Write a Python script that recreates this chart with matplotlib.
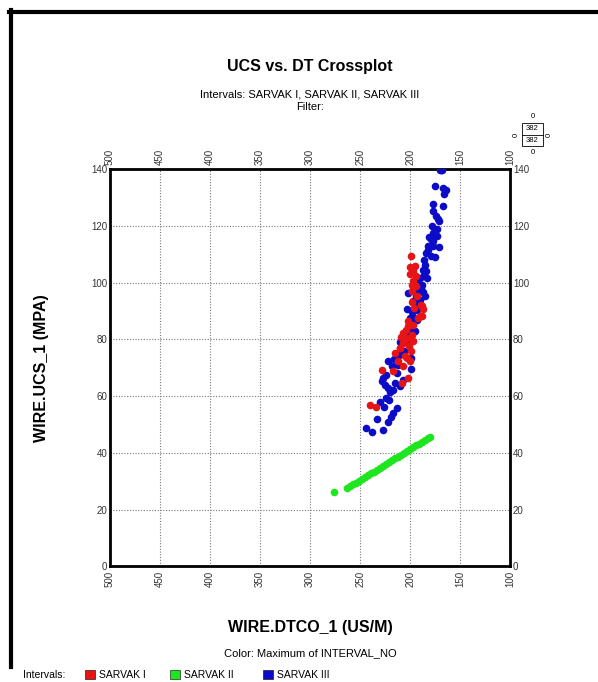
import matplotlib
matplotlib.use("Agg")
import matplotlib.pyplot as plt
from matplotlib.lines import Line2D
from matplotlib.patches import Rectangle

plt.rcParams['font.family'] = ['Liberation Sans', 'DejaVu Sans']

# Data (DT in US/M, UCS in MPA)
green_dt = [276, 263, 260, 257, 254, 251, 248, 245, 242, 239, 236, 233, 230, 227, 224,
            221, 218, 215, 212, 209, 206, 203, 200, 197, 194, 191, 188, 185, 182, 180]
green_ucs = [26.3, 27.7, 28.3, 28.9, 29.5, 30.2, 30.8, 31.5, 32.1, 32.8, 33.4, 34.1, 34.8, 35.4, 36.1,
             36.7, 37.4, 38.1, 38.7, 39.4, 40.1, 40.7, 41.4, 42.1, 42.7, 43.3, 44.0, 44.6, 45.2, 45.6]

blue_dt = [244, 238, 227, 233, 222, 219, 217, 213, 226, 230, 224, 221, 227, 225, 222,
           222, 218, 213, 207, 215, 210, 199, 199, 210, 211, 205, 193, 220, 217, 228,
           224, 216, 212, 206,
           169.3, 170.5, 168, 175, 166.7, 164.3, 165.7, 176.7, 177.3, 167.3, 171.7, 171.3, 173.3, 175,
           176.7, 180.7, 179, 176.7, 177.3, 170.7, 181.7, 184, 179.3, 175, 186, 185, 187.3, 186,
           183.3, 190, 188.3, 191.7, 185, 194, 196.7, 201.7, 203.3, 198.3, 195, 200, 196.7, 193.3,
           203.3, 195, 189, 192, 187, 190, 197, 199, 201, 192, 184, 182, 178, 174, 173]
blue_ucs = [48.7, 47.5, 48.1, 51.9, 50.9, 52.8, 54.0, 55.8, 56.1, 58.1, 59.3, 58.5, 66.4, 64.0, 63.0,
            72.2, 70.5, 68.3, 65.8, 64.6, 63.4, 69.5, 73.4, 78.9, 74.6, 80.0, 90.4, 61.5, 62.0, 65.5,
            67.5, 73.0, 71.0, 76.0,
            139.6, 139.8, 139.5, 133.9, 133.3, 132.5, 131.2, 127.8, 125.1, 126.9, 122.5, 121.6, 118.7, 118.1,
            117.5, 116.1, 115.5, 114.5, 112.8, 112.4, 111.6, 110.4, 109.5, 109.0, 108.0, 106.3, 104.6, 102.8,
            101.6, 101.6, 99.3, 97.5, 95.4, 95.1, 93.4, 96.3, 90.7, 89.8, 91.6, 87.5, 85.8, 86.9,
            82.8, 82.8, 98.0, 100.0, 96.5, 94.0, 88.0, 84.0, 79.5, 92.5, 104.0, 113.0, 120.0, 123.5, 116.5]

red_dt = [240, 234, 228, 217, 208, 202, 200, 215, 210, 207, 204, 201, 188, 190,
          199.3, 200, 195, 196.7, 194, 197.3, 194, 198.3, 193.3, 198.3, 189.3, 186.7, 188.3, 191.7,
          196.7, 201.7, 204, 198.3, 203.3, 196.7, 206.7, 210, 205, 212, 207, 203, 199, 200,
          198, 196, 202, 209]
red_ucs = [57.0, 56.0, 69.3, 69.0, 64.6, 66.4, 72.2, 75.2, 76.9, 82.2, 80.0, 77.5, 91.6, 88.1,
           109.5, 105.5, 105.7, 104.0, 102.2, 100.4, 98.7, 96.9, 95.1, 93.0, 92.2, 90.7, 88.1, 87.5,
           85.2, 84.6, 83.4, 81.6, 80.5, 79.3, 78.7, 76.9, 74.0, 72.5, 70.5, 73.5, 76.0, 103.0,
           99.0, 91.0, 86.5, 81.0]

x_ticks = [500, 450, 400, 350, 300, 250, 200, 150, 100]
y_ticks = [0, 20, 40, 60, 80, 100, 120, 140]

c_red = '#e61414'
c_green = '#1ee61e'
c_blue = '#0c0cc8'

fig = plt.figure(figsize=(5.98, 6.82), dpi=100)
ax = fig.add_axes([0.184, 0.1694, 0.669, 0.5828])

ax.scatter(green_dt, green_ucs, s=30, color=c_green, linewidths=0, zorder=3)
ax.scatter(blue_dt, blue_ucs, s=30, color=c_blue, linewidths=0, zorder=3)
ax.scatter(red_dt, red_ucs, s=30, color=c_red, linewidths=0, zorder=3)

ax.set_xlim(500, 100)
ax.set_ylim(0, 140)
ax.set_xticks(x_ticks)
ax.set_yticks(y_ticks)
ax.tick_params(axis='x', which='both', length=0, labelsize=7, labelrotation=90, labelcolor='#333333',
               top=True, labeltop=True, bottom=True, labelbottom=True, pad=3)
ax.tick_params(axis='y', which='both', length=0, labelsize=7, labelcolor='#333333',
               left=True, labelleft=True, right=True, labelright=True, pad=2)
ax.grid(True, color='#7a7a7a', linestyle=(0, (1, 1.5)), linewidth=0.8)
for sp in ax.spines.values():
    sp.set_linewidth(2)
    sp.set_color('black')

ax.set_xlabel('WIRE.DTCO_1 (US/M)', fontsize=11.5, fontweight='bold')
ax.set_ylabel('WIRE.UCS_1 (MPA)', fontsize=11.5, fontweight='bold')
ax.xaxis.set_label_coords(0.5, -0.135)
ax.yaxis.set_label_coords(-0.152, 0.5)

xc = 0.184 + 0.669 / 2
fig.text(xc, 0.903, 'UCS vs. DT Crossplot', ha='center', va='center', fontsize=11.5, fontweight='bold')
fig.text(xc, 0.862, 'Intervals: SARVAK I, SARVAK II, SARVAK III', ha='center', va='center', fontsize=8)
fig.text(xc, 0.843, 'Filter:', ha='center', va='center', fontsize=8)
fig.text(xc, 0.0425, 'Color: Maximum of INTERVAL_NO', ha='center', va='center', fontsize=8)

# legend row
ly = 0.0103
fig.text(23 / 598, ly, 'Intervals:', ha='left', va='center', fontsize=7.5)
for x0, col, name in [(85, c_red, 'SARVAK I'), (170, c_green, 'SARVAK II'), (263, c_blue, 'SARVAK III')]:
    fig.add_artist(Rectangle((x0 / 598, ly - 4.5 / 682), 9.5 / 598, 9 / 682, transform=fig.transFigure,
                             facecolor=col, edgecolor='black', linewidth=0.4))
    fig.text((x0 + 14) / 598, ly, name, ha='left', va='center', fontsize=7.5)

# point-count box
bx0, bx1 = 522 / 598, 543 / 598
by0, by1 = 1 - 146 / 682, 1 - 123 / 682
bym = (by0 + by1) / 2
fig.add_artist(Rectangle((bx0, by0), bx1 - bx0, by1 - by0, transform=fig.transFigure,
                         facecolor='white', edgecolor='black', linewidth=0.6))
fig.add_artist(Line2D([bx0, bx1], [bym, bym], transform=fig.transFigure, color='black', linewidth=0.6))
bxc = (bx0 + bx1) / 2
fig.text(bxc, (by1 + bym) / 2, '382', ha='center', va='center', fontsize=5.5)
fig.text(bxc, (by0 + bym) / 2, '382', ha='center', va='center', fontsize=5.5)
fig.text(bxc, by1 + 6 / 682, '0', ha='center', va='center', fontsize=5.5)
fig.text(bxc, by0 - 6 / 682, '0', ha='center', va='center', fontsize=5.5)
fig.text(bx0 - 6 / 598, bym, '0', ha='center', va='center', fontsize=5.5, rotation=90)
fig.text(bx1 + 6 / 598, bym, '0', ha='center', va='center', fontsize=5.5, rotation=90)

# outer frame (left and top edges visible)
fig.add_artist(Line2D([10.5 / 598, 10.5 / 598], [1 - 10 / 682, 1 - 667 / 682],
                      transform=fig.transFigure, color='black', linewidth=3))
fig.add_artist(Line2D([9 / 598, 1.0], [1 - 11.5 / 682, 1 - 11.5 / 682],
                      transform=fig.transFigure, color='black', linewidth=3))

fig.savefig('out.png', dpi=100, facecolor='white')
